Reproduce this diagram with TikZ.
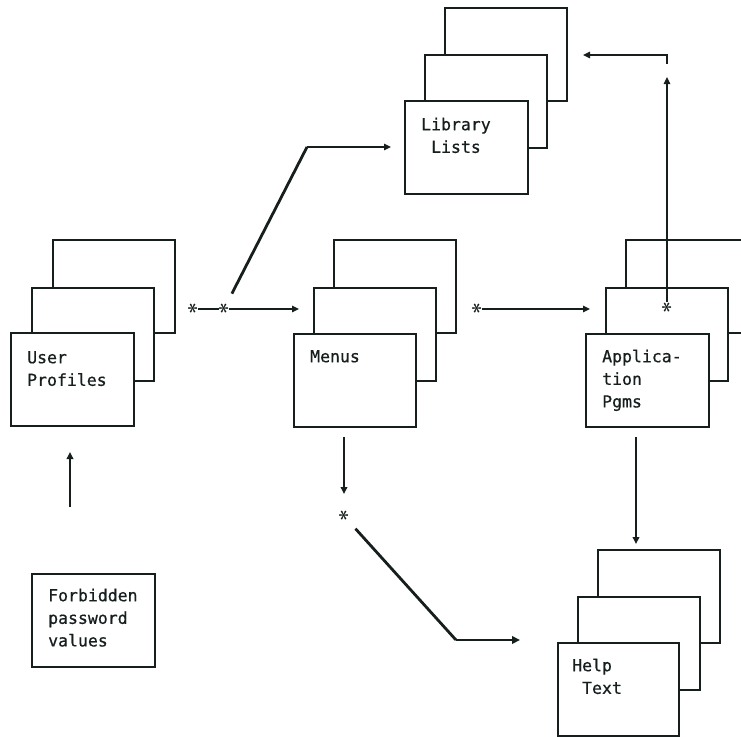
\documentclass[tikz,border=0pt]{standalone}
\usepackage{fontspec}
\setmonofont[FakeBold=0.6]{DejaVu Sans Mono}
\usetikzlibrary{arrows.meta}
\definecolor{ink}{RGB}{22,30,30}
\newcommand{\lbfont}{\ttfamily\fontsize{16.5}{22.6}\selectfont}
\tikzset{
  sheet/.style={draw=ink, line width=1.7pt, fill=white, minimum width=122pt, minimum height=93pt, anchor=north west, inner sep=0pt},
  lbl/.style={anchor=north west, inner sep=0pt, align=left, font=\lbfont, text=ink},
  starnode/.style={inner sep=0.3pt, rotate=90, font=\fontsize{22}{24}\selectfont\boldmath, text=ink},
  thinline/.style={draw=ink, line width=1.3pt},
  thickline/.style={draw=ink, line width=2.8pt},
  tip/.style={-{Triangle[length=7pt,width=6.5pt]}},
  bigtip/.style={-{Triangle[length=8pt,width=7.5pt]}}
}
\begin{document}
\begin{tikzpicture}[x=1pt,y=-1pt]
\useasboundingbox (0,0) rectangle (741,736);
\clip (0,0) rectangle (741,736);
% User Profiles
\node[sheet] (up3) at (52,239) {};
\node[sheet] (up2) at (31,287) {};
\node[sheet, minimum width=123pt] (up1) at (10,332) {};
\node[lbl] (uptxt) at (27,347.2) {\strut User\\Profiles};
% Library Lists
\node[sheet] (ll3) at (444,7) {};
\node[sheet] (ll2) at (424,54) {};
\node[sheet, minimum width=123pt] (ll1) at (404,100) {};
\node[lbl] (lltxt) at (421,114.2) {\strut Library\\\hphantom{L}Lists};
% Menus
\node[sheet] (mn3) at (333,239) {};
\node[sheet] (mn2) at (313,287) {};
\node[sheet] (mn1) at (293,333) {};
\node[lbl] (mntxt) at (310,346.2) {\strut Menus};
% Application Pgms
\node[sheet] (ap3) at (625,239) {};
\node[sheet] (ap2) at (605,287) {};
\node[sheet, minimum width=123pt] (ap1) at (585,333) {};
\node[lbl] (aptxt) at (602,346.2) {\strut Applica-\\tion\\Pgms};
% Help Text
\node[sheet] (ht3) at (597,549) {};
\node[sheet] (ht2) at (577,596) {};
\node[sheet, minimum width=121pt] (ht1) at (557,642) {};
\node[lbl] (httxt) at (572,655.2) {\strut Help\\\hphantom{H}Text};
% Forbidden password values
\node[sheet, minimum width=123pt] (fp) at (31,573) {};
\node[lbl] (fptxt) at (48,585.2) {\strut Forbidden\\password\\values};
% stars
\node[starnode] (s1) at (193,309) {$\ast$};
\node[starnode] (s2) at (224,309) {$\ast$};
\node[starnode] (s3) at (477,309) {$\ast$};
\node[starnode] (s4) at (667,308) {$\ast$};
\node[starnode] (s5) at (344,516) {$\ast$};
% coordinates
\coordinate (mnin) at (299,309);
\coordinate (d1) at (307,147);
\coordinate (llin) at (391,147);
\coordinate (apin) at (590,309);
\coordinate (upend) at (667,77);
\coordinate (r0) at (667,64);
\coordinate (r1) at (667,55);
\coordinate (ll3in) at (583,55);
\coordinate (fpa0) at (70,507);
\coordinate (fpa1) at (70,452);
\coordinate (mda0) at (344,437);
\coordinate (mda1) at (344,494);
\coordinate (h1) at (456,640);
\coordinate (htin) at (520,640);
\coordinate (ada0) at (636,437);
\coordinate (ada1) at (636,512);
\coordinate (ada2) at (636,544);
% connectors
\draw[thinline] (s1) -- (s2);
\draw[thinline, tip] (s2) -- (mnin);
\draw[thickline, shorten <=10pt] (s2) -- (d1);
\draw[thinline, tip] (d1) -- (llin);
\draw[thinline, tip] (s3) -- (apin);
\draw[thinline, tip] (s4) -- (upend);
\draw[thinline, tip] (r0) -- (r1) -- (ll3in);
\draw[thickline, line width=1.8pt, tip] (fpa0) -- (fpa1);
\draw[thickline, line width=1.8pt, tip] (mda0) -- (mda1);
\draw[thickline, shorten <=9pt, line join=round] (s5) -- (h1);
\draw[thickline, bigtip] (h1) -- (htin);
\draw[thickline, line width=1.8pt] (ada0) -- (ada1);
\draw[thickline, line width=2.6pt, tip] (ada1) -- (ada2);
\end{tikzpicture}
\end{document}
